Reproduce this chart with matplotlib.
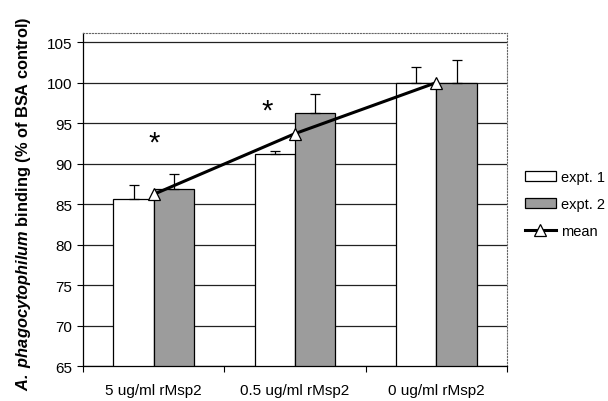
import matplotlib.pyplot as plt
import numpy as np

plt.rcParams['font.family'] = ['Liberation Sans', 'DejaVu Sans']
plt.rcParams['mathtext.fontset'] = 'custom'
plt.rcParams['mathtext.rm'] = 'Liberation Sans'
plt.rcParams['mathtext.it'] = 'Liberation Sans:italic'
plt.rcParams['mathtext.bf'] = 'Liberation Sans:bold'
plt.rcParams['mathtext.bfit'] = 'Liberation Sans:italic:bold'

categories = ['5 ug/ml rMsp2', '0.5 ug/ml rMsp2', '0 ug/ml rMsp2']
expt1 = [85.6, 91.2, 100.0]
expt2 = [86.8, 96.2, 100.0]
expt1_err = [1.8, 0.3, 1.9]
expt2_err = [1.9, 2.4, 2.8]
mean = [86.2, 93.7, 100.0]
stars = [(0.0, 92.6), (0.8, 96.6)]


def main():
    fig = plt.figure(figsize=(6.08, 4.02), dpi=100)
    ax = fig.add_axes([0.1365, 0.087, 0.6975, 0.828])
    x = np.arange(len(categories))
    w = 0.285

    ax.set_axisbelow(True)
    ax.yaxis.grid(True, color='#222222', linewidth=0.9)
    b1 = ax.bar(x - w / 2, expt1, w, color='white', edgecolor='black',
                linewidth=0.9, label='expt. 1')
    b2 = ax.bar(x + w / 2, expt2, w, color='#9c9c9c', edgecolor='black',
                linewidth=0.9, label='expt. 2')
    ax.errorbar(x - w / 2, expt1, yerr=[[0] * 3, expt1_err], fmt='none',
                ecolor='black', elinewidth=0.9, capsize=3.5, capthick=0.9)
    ax.errorbar(x + w / 2, expt2, yerr=[[0] * 3, expt2_err], fmt='none',
                ecolor='black', elinewidth=0.9, capsize=3.5, capthick=0.9)
    ln, = ax.plot(x, mean, color='black', linewidth=2.2, marker='^', markersize=9,
                  markerfacecolor='white', markeredgecolor='black',
                  markeredgewidth=0.9, label='mean')
    for sx, sy in stars:
        ax.text(sx, sy, '*', ha='center', va='center', fontsize=21)

    ax.set_xlim(-0.5, 2.5)
    ax.set_ylim(65, 106.1)
    ax.set_yticks(range(65, 106, 5))
    ax.set_xticks([-0.5, 0.5, 1.5, 2.5])
    ax.set_xticklabels([])
    ax.set_xticks(x, minor=True)
    ax.set_xticklabels(categories, minor=True, fontsize=11)
    ax.tick_params(axis='x', which='minor', length=0, pad=12)
    ax.tick_params(axis='x', which='major', direction='out', length=4, width=0.8)
    ax.tick_params(axis='y', direction='out', length=4, labelsize=11, width=0.8)

    for s in ['top', 'right']:
        ax.spines[s].set_linestyle(':')
        ax.spines[s].set_color('#666666')
        ax.spines[s].set_linewidth(0.8)
    ax.spines['left'].set_linewidth(0.9)
    ax.spines['bottom'].set_linewidth(0.9)

    ax.set_ylabel(r'$\mathbfit{A.\ phagocytophilum}$ binding (% of BSA control)',
                  fontsize=11.8, fontweight='bold')
    ax.yaxis.set_label_coords(-0.118, 0.491)

    fig.legend(handles=[b1, b2, ln], loc='center left',
               bbox_to_anchor=(0.8635, 0.49), frameon=False, fontsize=10.5,
               handlelength=2.1, labelspacing=0.9, handletextpad=0.35,
               borderpad=0, borderaxespad=0)

    fig.savefig('out.png', dpi=100)


if __name__ == '__main__':
    main()
